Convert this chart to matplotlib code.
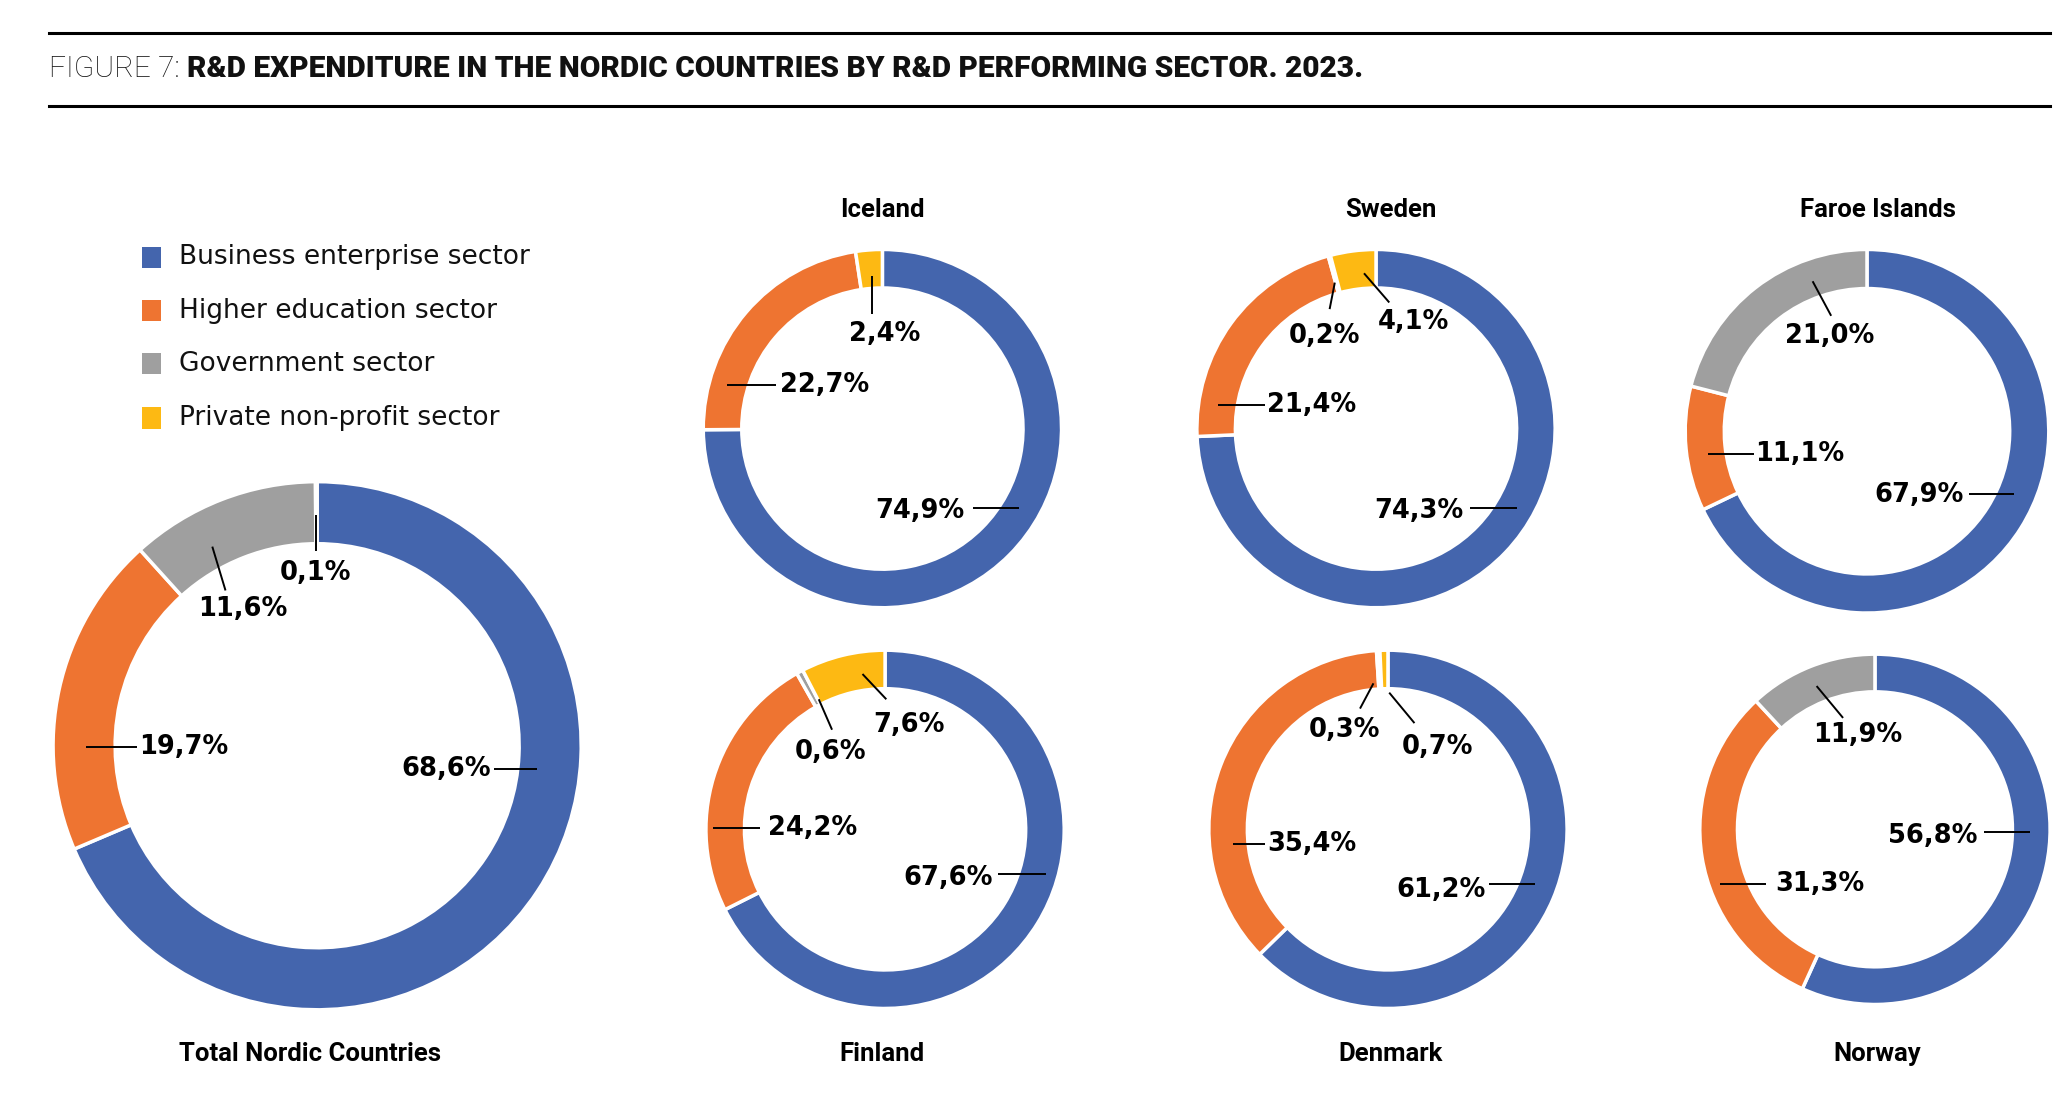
import matplotlib
matplotlib.use("Agg")
import matplotlib.pyplot as plt
from matplotlib.lines import Line2D
from matplotlib.patches import Rectangle

# ---------------- data ----------------
sectors = ["Business enterprise sector", "Higher education sector",
           "Government sector", "Private non-profit sector"]
countries = ["Total Nordic Countries", "Iceland", "Sweden", "Faroe Islands",
             "Finland", "Denmark", "Norway"]
business = [68.6, 74.9, 74.3, 67.9, 67.6, 61.2, 56.8]
higher_ed = [19.7, 22.7, 21.4, 11.1, 24.2, 35.4, 31.3]
government = [11.6, 0.0, 0.2, 21.0, 0.6, 0.3, 11.9]
private_np = [0.1, 2.4, 4.1, 0.0, 7.6, 0.7, 0.0]

title_light = "FIGURE 7: "
title_bold = "R&D EXPENDITURE IN THE NORDIC COUNTRIES BY R&D PERFORMING SECTOR. 2023."

colors = ["#4465AD", "#EE7431", "#9F9F9F", "#FDB913"]

# ---------------- layout (reference pixel grid 1560 x 832) ----------------
W, H = 1560.0, 832.0
# center x, center y, radius, ring width, title x, title y
layout = {
    "Total Nordic Countries": (239, 562, 199, 0.235, 234, 794),
    "Iceland": (665, 323, 135, 0.215, 665, 158),
    "Sweden": (1037, 323, 135, 0.215, 1048, 158),
    "Faroe Islands": (1407, 325, 137, 0.215, 1415, 158),
    "Finland": (667, 625, 135, 0.215, 665, 794),
    "Denmark": (1046, 625, 135, 0.215, 1048, 794),
    "Norway": (1413, 625, 132, 0.215, 1415, 794),
}
# label placement in pie units: sector index -> (text x, text y, ha, leader x0, y0, x1, y1)
labels = {
    "Total Nordic Countries": {
        0: (0.660, -0.09, "right", 0.668, -0.09, 0.834, -0.09),
        1: (-0.673, -0.005, "left", -0.874, -0.005, -0.683, -0.005),
        2: (-0.281, 0.518, "center", -0.397, 0.754, -0.347, 0.588),
        3: (-0.005, 0.653, "center", -0.005, 0.874, -0.005, 0.739),
    },
    "Iceland": {
        0: (0.459, -0.459, "right", 0.504, -0.444, 0.763, -0.444),
        1: (-0.570, 0.244, "left", -0.867, 0.244, -0.593, 0.244),
        3: (0.015, 0.526, "center", -0.059, 0.852, -0.059, 0.637),
    },
    "Sweden": {
        0: (0.489, -0.459, "right", 0.526, -0.444, 0.785, -0.444),
        1: (-0.607, 0.133, "left", -0.881, 0.133, -0.622, 0.133),
        2: (-0.289, 0.519, "center", -0.230, 0.815, -0.259, 0.667),
        3: (0.207, 0.593, "center", -0.067, 0.867, 0.074, 0.704),
    },
    "Faroe Islands": {
        0: (0.533, -0.350, "right", 0.562, -0.343, 0.810, -0.343),
        1: (-0.613, -0.124, "left", -0.876, -0.124, -0.620, -0.124),
        2: (-0.204, 0.526, "center", -0.299, 0.825, -0.197, 0.635),
    },
    "Finland": {
        0: (0.600, -0.274, "right", 0.630, -0.252, 0.896, -0.252),
        1: (-0.652, 0.007, "left", -0.963, 0.007, -0.696, 0.007),
        2: (-0.304, 0.430, "center", -0.370, 0.726, -0.296, 0.556),
        3: (0.133, 0.585, "center", -0.126, 0.867, 0.007, 0.726),
    },
    "Denmark": {
        0: (0.548, -0.341, "right", 0.563, -0.304, 0.822, -0.304),
        1: (-0.674, -0.081, "left", -0.867, -0.081, -0.689, -0.081),
        2: (-0.244, 0.556, "center", -0.081, 0.815, -0.156, 0.674),
        3: (0.274, 0.459, "center", 0.007, 0.763, 0.148, 0.593),
    },
    "Norway": {
        0: (0.583, -0.038, "right", 0.621, -0.015, 0.886, -0.015),
        1: (-0.568, -0.311, "left", -0.886, -0.311, -0.621, -0.311),
        2: (-0.098, 0.538, "center", -0.333, 0.818, -0.182, 0.636),
    },
}

FONT = ["DejaVu Sans"]
NARROW = ["Roboto", "DejaVu Sans"]
plt.rcParams["font.family"] = FONT

fig = plt.figure(figsize=(20.7, 11.04), dpi=100)


def fx(x):
    return x / W


def fy(y):
    return 1 - y / H


# title rules
for yy in (25, 80):
    fig.add_artist(Line2D([fx(37), fx(1545)], [fy(yy), fy(yy)],
                          transform=fig.transFigure, color="black", lw=2.2))

t1 = fig.text(fx(37), fy(52), title_light, fontsize=21.5, family=NARROW,
              fontweight="light", fontstretch="condensed",
              va="center", ha="left", color="#111111")
renderer = fig.canvas.get_renderer()
bb = t1.get_window_extent(renderer)
x_end = bb.x1 / fig.bbox.width
fig.text(x_end, fy(52), title_bold, fontsize=21.5, family=NARROW,
         fontweight="heavy", fontstretch="condensed",
         va="center", ha="left", color="#111111")

# legend
leg_y = [194, 234, 274, 315]
for i, s in enumerate(sectors):
    fig.add_artist(Rectangle((fx(107), fy(leg_y[i]) - 8 / H), 14 / W, 16 / H,
                             transform=fig.transFigure, color=colors[i], lw=0))
    fig.text(fx(135), fy(leg_y[i]), s, fontsize=19, va="center", ha="left",
             color="#111111")

series = [business, higher_ed, government, private_np]


def fmt(v):
    return f"{v:.1f}".replace(".", ",") + "%"


for ci, country in enumerate(countries):
    cx, cy, R, width, tx, ty = layout[country]
    ax = fig.add_axes([fx(cx - R), fy(cy + R), 2 * R / W, 2 * R / H])
    vals, cols, idx = [], [], []
    for si in range(4):
        v = series[si][ci]
        if v > 0:
            vals.append(v)
            cols.append(colors[si])
            idx.append(si)
    ax.pie(vals, colors=cols, startangle=90, counterclock=False, radius=1,
           wedgeprops=dict(width=width, edgecolor="white", linewidth=2.5))
    ax.set_xlim(-1, 1)
    ax.set_ylim(-1, 1)
    ax.set_aspect("equal")
    ax.axis("off")
    for si in idx:
        if si not in labels[country]:
            continue
        lx, ly, ha, x0, y0, x1, y1 = labels[country][si]
        ax.plot([x0, x1], [y0, y1], color="black", lw=1.4, clip_on=False,
                solid_capstyle="butt")
        ax.text(lx, ly, fmt(series[si][ci]), ha=ha, va="center",
                fontsize=18.5, fontweight="bold",
                color="black", clip_on=False)
    fig.text(fx(tx), fy(ty), country, ha="center", va="center", fontsize=18.5,
             family=NARROW, fontweight="bold", color="black")

fig.savefig("out.png", dpi=100, facecolor="white")
